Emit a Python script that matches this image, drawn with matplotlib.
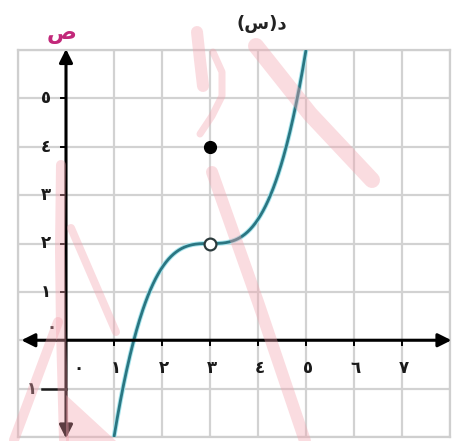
import numpy as np
import matplotlib
matplotlib.use("Agg")
import matplotlib.pyplot as plt
from matplotlib.lines import Line2D
from matplotlib.patches import Polygon

plt.rcParams['font.family'] = ['DejaVu Sans']

# graph of d(x) = 0.5 (x - 3)^3 + 2, with a hole at x = 3 and the value moved to 4
x_min, x_max = -1, 8
y_min, y_max = -2, 6
coef = 0.5
x_shift = 3
y_shift = 2
curve_x = np.linspace(1, 5, 300)
hole_pt = (3, 2)
dot_pt = (3, 4)

ar_digits = ['٠', '١', '٢', '٣', '٤', '٥', '٦', '٧']
x_ticks = [1, 2, 3, 4, 5, 6, 7]
y_ticks = [1, 2, 3, 4, 5]

# light pink brush marks across the sheet (pixel coords, width in px)
brush_strokes = [
    ([(197, 32), (200, 60), (203, 86)], 12),
    ([(213, 52), (222, 72), (222, 96), (212, 116), (200, 134)], 7),
    ([(212, 172), (258, 302), (305, 441)], 12),
    ([(256, 46), (310, 114), (372, 180)], 16),
    ([(61, 165), (60, 250), (61, 330), (64, 440)], 10),
    ([(71, 228), (116, 332)], 8),
    ([(14, 440), (58, 322)], 10),
]
brush_fill = [(66, 395), (116, 441), (66, 441)]

W, H = 456, 441
fig = plt.figure(figsize=(W / 100, H / 100), dpi=100)
ax = fig.add_axes([18 / W, 1 - 437 / H, 432 / W, 387 / H])
ax.set_xlim(x_min, x_max)
ax.set_ylim(y_min, y_max)
ax.set_xticks([])
ax.set_yticks([])
for s in ax.spines.values():
    s.set_color('#cfcfcf')
    s.set_linewidth(1.6)

# grid
for gx in range(x_min, x_max + 1):
    ax.axvline(gx, color='#d2d2d2', lw=1.6, zorder=1)
for gy in range(y_min, y_max + 1):
    ax.axhline(gy, color='#d2d2d2', lw=1.6, zorder=1)

# axes with arrows at both ends
ax.annotate('', xy=(8.03, 0), xytext=(-0.93, 0),
            arrowprops=dict(arrowstyle='<|-|>', color='black', lw=2.2,
                            mutation_scale=20, shrinkA=0, shrinkB=0),
            annotation_clip=False, zorder=4)
ax.annotate('', xy=(0, 6.02), xytext=(0, -2.03),
            arrowprops=dict(arrowstyle='<|-|>', color='black', lw=2.2,
                            mutation_scale=20, shrinkA=0, shrinkB=0),
            annotation_clip=False, zorder=4)

# small tick marks on the axes
for t in x_ticks:
    ax.plot([t, t], [0, -0.1], color='black', lw=1.4, zorder=4)
for t in y_ticks:
    ax.plot([-0.1, 0], [t, t], color='black', lw=1.4, zorder=4)

# tick labels
lab = dict(fontsize=12, fontweight='bold', color='#1a1a1a', ha='center', va='center', zorder=5)
for t in x_ticks:
    ax.text(t + 0.04, -0.57, ar_digits[t], **lab)
ax.text(0.25, -0.57, ar_digits[0], **lab)
for t in y_ticks:
    ax.text(-0.42, t, ar_digits[t], **lab)
ax.text(-0.3, 0.28, ar_digits[0], **lab)
# -1 written right to left: digit, then a long minus reaching the axis
ax.text(-0.72, -1, ar_digits[1], **lab)
ax.plot([-0.5, 0], [-1, -1], color='#1a1a1a', lw=1.8, zorder=4)

# the curve
curve_y = coef * (curve_x - x_shift) ** 3 + y_shift
ax.plot(curve_x, curve_y, color='#a8e6ee', lw=3.4, zorder=3, solid_capstyle='butt')
ax.plot(curve_x, curve_y, color='#2a7682', lw=2.0, zorder=3, solid_capstyle='butt')
ax.plot(*hole_pt, 'o', ms=8.5, mfc='white', mec='#2b3a3c', mew=1.6, zorder=6)
ax.plot(*dot_pt, 'o', ms=8.5, mfc='black', mec='black', zorder=6)

# labels
fig.text(262 / W, 1 - 24 / H, '(س)د', fontsize=13, fontweight='bold',
         color='#222222', ha='center', va='center')
fig.text(62 / W, 1 - 34 / H, 'ص', fontsize=16, fontweight='bold',
         color='#c2287a', ha='center', va='center')

# brush marks drawn on top, semi transparent
def to_fig(p):
    return (p[0] / W, 1 - p[1] / H)

pink = '#f4a3ae'
for pts, w in brush_strokes:
    xs, ys = zip(*[to_fig(p) for p in pts])
    fig.add_artist(Line2D(xs, ys, transform=fig.transFigure, color=pink,
                          alpha=0.38, lw=w * 0.72, solid_capstyle='round',
                          solid_joinstyle='round', zorder=10))
fig.add_artist(Polygon([to_fig(p) for p in brush_fill], closed=True,
                       transform=fig.transFigure, color=pink, alpha=0.38,
                       lw=0, zorder=10))

fig.savefig('out.png', dpi=100, facecolor='white')
